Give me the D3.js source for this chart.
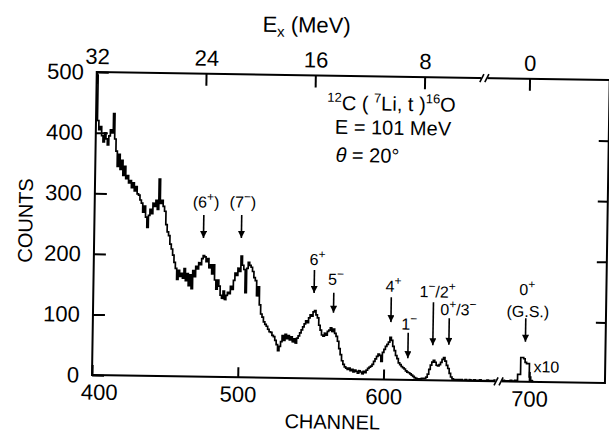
<!DOCTYPE html>
<html>
<head>
<meta charset="utf-8">
<script src="https://cdn.jsdelivr.net/npm/d3@7"></script>
<style>
  body { margin: 0; background: #fff; }
</style>
</head>
<body>
<script>
// Spectrum counts, one value per channel, starting at channel 400
var firstChannel = 400;
var counts = [
  495, 420, 405, 410, 395, 385, 400, 390, 380, 395,   // 400
  405, 400, 432, 390, 370, 345, 365, 340, 355, 330,   // 410
  345, 325, 330, 318, 322, 310, 318, 305, 312, 300,   // 420
  298, 290, 285, 270, 280, 262, 245, 265, 275, 268,   // 430
  285, 280, 290, 275, 325, 285, 290, 280, 272, 250,   // 440
  238, 232, 218, 210, 200, 188, 178, 160, 175, 165,   // 450
  170, 162, 178, 158, 170, 150, 168, 145, 175, 165,   // 460
  182, 178, 188, 185, 195, 200, 198, 190, 195, 180,   // 470
  185, 170, 185, 160, 145, 160, 150, 135, 130, 142,   // 480
  128, 135, 140, 138, 150, 145, 160, 172, 168, 180,   // 490
  175, 200, 185, 178, 140, 180, 190, 185, 182, 175,   // 500
  165, 160, 135, 150, 120, 105, 100, 92, 88, 85,      // 510
  80, 76, 75, 70, 68, 62, 55, 45, 52, 60,             // 520
  70, 62, 72, 65, 70, 63, 68, 60, 65, 58,             // 530
  66, 70, 75, 80, 85, 90, 95, 92, 100, 105,           // 540
  103, 110, 112, 105, 100, 88, 80, 72, 70, 75,        // 550
  72, 78, 80, 84, 78, 82, 75, 70, 62, 50,             // 560
  40, 30, 24, 20, 18, 16, 18, 14, 16, 12,             // 570
  15, 13, 10, 14, 12, 9, 13, 11, 15, 18,              // 580
  20, 22, 25, 30, 34, 38, 42, 40, 30, 45,             // 590
  50, 55, 58, 62, 70, 65, 55, 48, 40, 35,             // 600
  28, 25, 22, 20, 18, 15, 13, 12, 10, 8,              // 610
  6, 4, 3, 2, 2, 2, 3, 3, 3, 5,                       // 620
  10, 18, 25, 30, 33, 30, 25, 24, 26, 30,             // 630
  35, 38, 32, 25, 20, 12, 6, 3, 2, 2,                 // 640
  1, 2, 1, 2, 1, 1, 2, 1, 1, 2,                       // 650
  1, 1, 2, 1, 1, 1, 2, 1, 1, 1,                       // 660
  1, 2, 1, 1, 1, 1, 2, 1, 1, 1,                       // 670
  1, 1, 2, 1, 1, 1, 1, 2, 1, 1, 2                     // 680
];
// ground state peak, drawn multiplied by 10 (channels 691..702)
var gsFirstChannel = 691;
var gsCountsX10 = [2, 12, 12, 40, 40, 38, 32, 30, 30, 8, 2, 1];

var channelTicks = [400, 500, 600, 700];
var countTicks = [0, 100, 200, 300, 400, 500];
var exTicks = [32, 24, 16, 8, 0];

// states marked with arrows ("^" = superscript)
var peakChannels = [475, 501, 551.5, 565, 604.5, 616.5, 633.5, 644.5, 697];
var peakLabels = ["(6^+)", "(7^\u2212)", "6^+", "5^\u2212", "4^+", "1^\u2212", "1^\u2212/2^+", "0^+/3^\u2212", "0^+"];

// arrow placement (in counts) and label offsets
var arrowLayout = [
  {top: 267, tip: 229, label: 279, dx: 2},
  {top: 268, tip: 230, label: 280, dx: 1},
  {top: 179, tip: 141, label: 187, dx: 3},
  {top: 142, tip: 109, label: 155, dx: 2},
  {top: 136, tip: 95,  label: 145, dx: 2},
  {top: 78,  tip: 36,  label: 83,  dx: 1},
  {top: 129, tip: 58,  label: 137, dx: 4},
  {top: 103, tip: 59,  label: 108, dx: 9},
  {top: 105, tip: 66,  label: 143, dx: 1}
];

var svgWidth = 609;
var svgHeight = 433;
var margin = {top: 72, left: 92};
var width = 513;
var height = 303;
var fontFamily = "'Liberation Sans', Arial, sans-serif";

var svg = d3.select("body")
  .append("svg")
  .attr("width", svgWidth)
  .attr("height", svgHeight)
  .style("font-family", fontFamily);

svg.append("defs").append("marker")
  .attr("id", "head")
  .attr("viewBox", "0 0 10 10")
  .attr("refX", 10)
  .attr("refY", 5)
  .attr("markerUnits", "userSpaceOnUse")
  .attr("markerWidth", 9)
  .attr("markerHeight", 7)
  .attr("orient", "auto")
  .append("path")
  .attr("d", "M0,0 L10,5 L0,10 Z")
  .attr("fill", "#000");

// the scanned figure sits slightly tilted, so the whole chart is rotated a bit
var chart = svg.append("g")
  .attr("transform", `translate(${margin.left}, ${margin.top}) rotate(0.9, 0, ${height})`);

var x = d3.scaleLinear().domain([400, 752]).range([0, width]);
var y = d3.scaleLinear().domain([0, 500]).range([height, 0]);
// excitation energy on the top axis (axis is broken before 0 MeV)
var ex = d3.scaleLinear().domain([32, 8, 0]).range([x(400), x(625), x(697)]);

// helper for labels with superscripts
function richText(sel, str, size, supSize, rise) {
  var re = /\^\{([^}]*)\}|\^(.)|([^^]+)/g;
  var m, up = false;
  while ((m = re.exec(str)) !== null) {
    var sup = m[1] !== undefined ? m[1] : m[2];
    if (sup !== undefined) {
      sel.append("tspan").attr("font-size", supSize).attr("dy", up ? 0 : -rise).text(sup);
      up = true;
    } else {
      sel.append("tspan").attr("font-size", size).attr("dy", up ? rise : 0).text(m[3]);
      up = false;
    }
  }
}

// spectrum
var pts = counts.map((c, i) => [firstChannel + i, c]);
pts.push([firstChannel + counts.length, counts[counts.length - 1]]);
var gsPts = gsCountsX10.map((c, i) => [gsFirstChannel + i, c]);
gsPts.push([gsFirstChannel + gsCountsX10.length, 1]);

var line = d3.line()
  .x(d => x(d[0]))
  .y(d => y(d[1]))
  .curve(d3.curveStepAfter);

chart.append("path")
  .attr("d", line(pts.concat(gsPts)))
  .attr("fill", "none")
  .attr("stroke", "#000")
  .attr("stroke-width", 1.7)
  .attr("stroke-linejoin", "miter");

// frame
chart.append("rect")
  .attr("width", width)
  .attr("height", height)
  .attr("fill", "none")
  .attr("stroke", "#000")
  .attr("stroke-width", 2);

function styleAxis(g) {
  g.select(".domain").remove();
  g.attr("font-size", 22).attr("font-family", fontFamily);
  g.selectAll("line").attr("stroke", "#000").attr("stroke-width", 2);
  g.selectAll("text").attr("fill", "#000");
}

chart.append("g")
  .call(d3.axisLeft(y).tickValues(countTicks).tickSize(-12).tickPadding(13))
  .call(styleAxis);

chart.append("g")
  .attr("transform", `translate(${width}, 0)`)
  .call(d3.axisRight(y).tickValues(countTicks.slice(1, -1)).tickSize(-10).tickFormat(""))
  .call(styleAxis);

chart.append("g")
  .attr("transform", `translate(0, ${height})`)
  .call(d3.axisBottom(x).tickValues(channelTicks).tickSize(-10).tickPadding(9))
  .call(styleAxis)
  .selectAll("text")
  .attr("dx", d => d === 400 ? 7 : 0);

chart.append("g")
  .call(d3.axisTop(ex).tickValues(exTicks).tickSize(-12).tickPadding(8))
  .call(styleAxis);

// axis breaks
function axisBreak(cx, cy) {
  chart.append("rect")
    .attr("x", cx - 3).attr("y", cy - 2)
    .attr("width", 6).attr("height", 4)
    .attr("fill", "#fff");
  [-2.5, 2.5].forEach(function(o) {
    chart.append("line")
      .attr("x1", cx + o - 2).attr("y1", cy + 4)
      .attr("x2", cx + o + 2).attr("y2", cy - 4)
      .attr("stroke", "#000")
      .attr("stroke-width", 1.6);
  });
}
axisBreak(x(666), 0);
axisBreak(x(679), height);

// axis titles
chart.append("text")
  .attr("x", x(400) + 241)
  .attr("y", height + 50)
  .attr("text-anchor", "middle")
  .attr("font-size", 20)
  .text("CHANNEL");

chart.append("text")
  .attr("transform", `translate(-62, ${height / 2 - 2}) rotate(-90)`)
  .attr("text-anchor", "middle")
  .attr("font-size", 20)
  .text("COUNTS");

var exTitle = chart.append("text")
  .attr("x", 165)
  .attr("y", -43)
  .attr("font-size", 22);
exTitle.append("tspan").text("E");
exTitle.append("tspan").attr("font-size", 15).attr("dy", 5).text("x");
exTitle.append("tspan").attr("dy", -5).text(" (MeV)");

// reaction info
var info = chart.append("g").attr("fill", "#000");
richText(info.append("text").attr("x", 231).attr("y", 34),
  "^{12}C ( ^{7}Li, t )^{16}O", 20, 13, 8);
info.append("text").attr("x", 239).attr("y", 58).attr("font-size", 20)
  .text("E = 101  MeV");
var theta = info.append("text").attr("x", 240).attr("y", 86).attr("font-size", 20);
theta.append("tspan").attr("font-style", "italic").text("\u03b8");
theta.append("tspan").text(" = 20\u00b0");

// state arrows
peakChannels.forEach(function(ch, i) {
  var a = arrowLayout[i];
  chart.append("line")
    .attr("x1", x(ch)).attr("y1", y(a.top))
    .attr("x2", x(ch)).attr("y2", y(a.tip))
    .attr("stroke", "#000")
    .attr("stroke-width", 1.6)
    .attr("marker-end", "url(#head)");
  var t = chart.append("text")
    .attr("x", x(ch) + a.dx)
    .attr("y", y(a.label))
    .attr("text-anchor", "middle");
  richText(t, peakLabels[i], 16, 12, 7);
});

chart.append("text")
  .attr("x", x(697) + 2)
  .attr("y", y(107))
  .attr("text-anchor", "middle")
  .attr("font-size", 16)
  .text("(G.S.)");

chart.append("text")
  .attr("x", x(702.8))
  .attr("y", y(16))
  .attr("font-size", 16)
  .text("x10");
</script>
</body>
</html>
